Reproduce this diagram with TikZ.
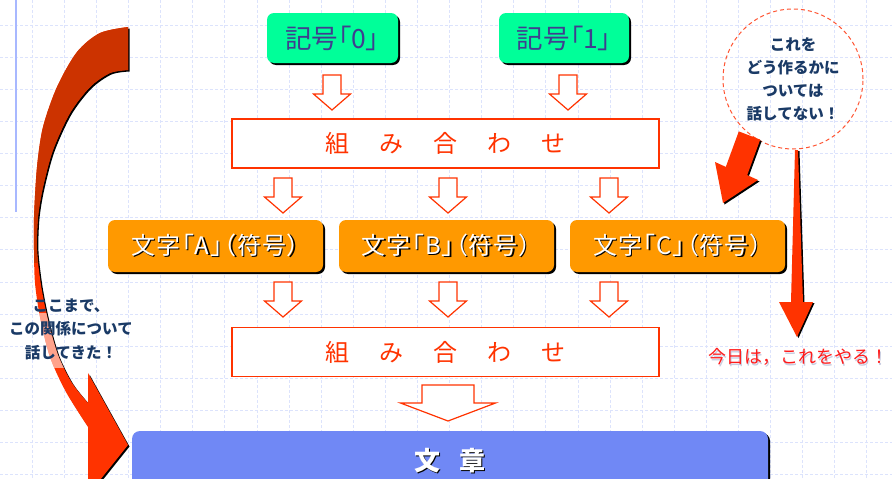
\documentclass[tikz,border=0pt]{standalone}
\usepackage{fontspec}
\usetikzlibrary{shadows}
\newfontfamily\jp{Noto Sans CJK JP}
\newfontfamily\jpp[RawFeature=+palt]{Noto Sans CJK JP}
\newfontfamily\jpo[RawFeature=+palt,LetterSpace=5]{Noto Sans CJK JP}
\definecolor{mint}{HTML}{00FF99}
\definecolor{slate}{HTML}{3F3F8F}
\definecolor{orng}{HTML}{FF9900}
\definecolor{redo}{HTML}{FF3300}
\definecolor{dred}{HTML}{CC3300}
\definecolor{bbox}{HTML}{7088F5}
\definecolor{navy}{HTML}{1A3A66}
\definecolor{gridc}{HTML}{DCE3FC}
\definecolor{vlinec}{HTML}{A8B8FF}
\definecolor{circc}{HTML}{FF5533}
\definecolor{redt}{HTML}{FF1A1A}
\definecolor{shadowc}{HTML}{C8CCE0}
\newcommand\shtext[2]{\makebox[0pt][l]{\hspace{1.3pt}\raisebox{-1.3pt}{\color{#1}#2}}#2}
\newcommand\harrow[6]{%
  \draw[hollow] ({#1-#4},#2) -- ({#1+#4},#2) -- ({#1+#4},{#3-#6}) -- ({#1+#5},{#3-#6})
    -- (#1,#3) -- ({#1-#5},{#3-#6}) -- ({#1-#4},{#3-#6}) -- cycle;}
\def\leftarrowpath{(128,27) -- plot[smooth] coordinates {(128,27) (100,33) (77,52) (57,87) (43,127) (37,167) (34,217) (34,250) (35,283) (40,317) (50,357) (66,392) (88,427)} -- (88,495) -- (128,445) -- (88,373) -- plot[smooth] coordinates {(88,403) (72,383) (58,355) (48,320) (41,285) (37,250) (38,217) (43,187) (53,150) (70,113) (90,87) (110,73) (128,70)} -- cycle}
\begin{document}
\begin{tikzpicture}[x=1pt,y=-1pt,
  gridline/.style={draw=gridc, line width=0.6pt, dash pattern=on 3pt off 2pt},
  hollow/.style={draw=redo, fill=white, line width=1.2pt, line join=miter},
  greenbox/.style={rounded corners=7pt, fill=mint, minimum width=131pt, minimum height=50pt,
    drop shadow={shadow xshift=2pt, shadow yshift=-2pt, fill=black, opacity=1},
    text=slate, font=\jpp\fontsize{26.5}{30}\selectfont, inner sep=0pt},
  orangebox/.style={rounded corners=7pt, fill=orng, minimum width=215pt, minimum height=52pt,
    drop shadow={shadow xshift=2pt, shadow yshift=-2pt, fill=black, opacity=1},
    text=white, font=\jpo\fontsize{24}{28}\selectfont, inner sep=0pt},
  combbox/.style={draw=redo, line width=1.3pt, fill=white, minimum width=427pt, minimum height=49pt,
    text=redo, font=\jp\fontsize{24}{27}\selectfont, inner sep=0pt},
  bluebox/.style={rounded corners=8pt, fill=bbox, minimum width=636pt, minimum height=60pt,
    drop shadow={shadow xshift=2pt, shadow yshift=-2pt, fill=black, opacity=1},
    text=white, font=\jp\bfseries\fontsize{26}{29}\selectfont, inner sep=0pt},
  ]
\fill[white] (0,0) rectangle (892,479);
\useasboundingbox (0,0) rectangle (892,479);
\clip (0,0) rectangle (892,479);
% grid
\foreach \i in {1,...,27} \draw[gridline] ({32.1*\i},0) -- ({32.1*\i},479);
\foreach \j in {0,...,14} \draw[gridline] (0,{25+32.1*\j}) -- (892,{25+32.1*\j});
\draw[vlinec, line width=1.5pt] (16,0) -- (16,212);
% left curved arrow
\fill[black, shift={(1.5,1.5)}] \leftarrowpath;
\fill[redo] \leftarrowpath;
\begin{scope}
  \clip (0,0) rectangle (200,262);
  \fill[dred] \leftarrowpath;
\end{scope}
\begin{scope}
  \clip \leftarrowpath;
  \fill[white, opacity=0.55] (0,313) rectangle (120,368);
\end{scope}
% boxes
\node[greenbox] (g0) at (332.5,38) {記号「0」};
\node[greenbox, minimum width=130pt] (g1) at (564,38) {記号「1」};
\node[combbox] (c1) at (445.5,143.5) {組\hspace{30pt}み\hspace{30pt}合\hspace{30pt}わ\hspace{30pt}せ};
\node[orangebox] (ca) at (215.5,246) {\shtext{black}{文字「A」（符号）}};
\node[orangebox] (cb) at (446.5,246) {\shtext{black}{文字「B」（符号）}};
\node[orangebox] (cc) at (677.5,246) {\shtext{black}{文字「C」（符号）}};
\node[combbox] (c2) at (445.5,352) {組\hspace{30pt}み\hspace{30pt}合\hspace{30pt}わ\hspace{30pt}せ};
\node[bluebox] (doc) at (450,461) {\shtext{black}{文\hspace{19pt}章}};
% hollow arrows
\harrow{332}{75}{110}{9}{18.5}{16}
\harrow{568}{75}{110}{9}{18.5}{16}
\harrow{283}{178}{213}{9}{18.5}{16}
\harrow{448}{178}{213}{9}{18.5}{16}
\harrow{609}{178}{213}{9}{18.5}{16}
\harrow{283}{282}{317}{9}{18.5}{16}
\harrow{448}{282}{317}{9}{18.5}{16}
\harrow{609}{282}{317}{9}{18.5}{16}
\harrow{448}{385}{421}{26}{47.5}{18}
% circle note
\node[circle, draw=circc, dash pattern=on 4pt off 3pt, line width=1pt, minimum size=140pt,
  inner sep=0pt, align=center, text=navy, font=\jp\bfseries\fontsize{15.5}{23}\selectfont]
  (circ) at (793,79) {これを\\どう作るかに\\ついては\\話してない！};
% bold diagonal arrow
\fill[black, shift={(1.5,1.5)}] (738.8,131.4) -- (760.2,139.6) -- (747.2,175.1) -- (758,180) -- (723,203) -- (715,162) -- (725.8,166.9) -- cycle;
\fill[redo] (738.8,131.4) -- (760.2,139.6) -- (747.2,175.1) -- (758,180) -- (723,203) -- (715,162) -- (725.8,166.9) -- cycle;
% vertical arrow
\fill[black, shift={(1.5,1)}] (795,150) -- (798,150) -- (803,302) -- (813,302) -- (797,337) -- (779,302) -- (791,302) -- cycle;
\fill[redo] (795,150) -- (798,150) -- (803,302) -- (813,302) -- (797,337) -- (779,302) -- (791,302) -- cycle;
% texts
\node[align=center, text=navy, font=\jp\bfseries\fontsize{15.5}{23.5}\selectfont] (ltext) at (71,329) {ここまで、\\この関係について\\話してきた！};
\node[text=redt, font=\jp\fontsize{18}{20}\selectfont, inner sep=0pt] (today) at (798,358) {\shtext{shadowc}{今日は，これをやる！}};
\end{tikzpicture}
\end{document}
